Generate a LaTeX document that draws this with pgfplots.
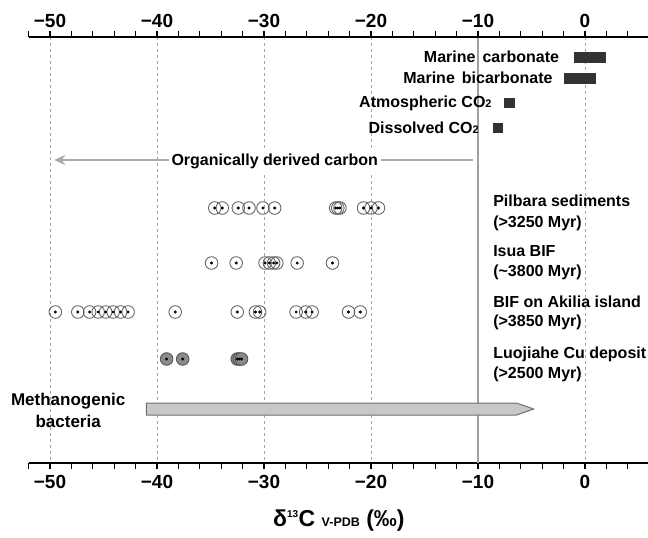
\documentclass[border=0pt]{standalone}
\usepackage{pgfplots}
\pgfplotsset{compat=1.18}
\usepackage{fontspec}
\setmainfont{Liberation Sans}
\usetikzlibrary{arrows.meta}

\definecolor{ring}{HTML}{666666}
\definecolor{barc}{HTML}{333333}
\definecolor{gridc}{HTML}{A5A5A5}
\definecolor{tenline}{HTML}{A0A0A0}
\definecolor{orgarrow}{HTML}{ABABAB}
\definecolor{methfill}{HTML}{C8C8C8}
\definecolor{methdraw}{HTML}{6E6E6E}
\definecolor{luofill}{HTML}{8A8A8A}

% one axis frame, drawn twice: bottom scale and top scale
\pgfplotsset{
  isoframe/.style={
    scale only axis, width=620.6bp, height=426bp,
    xmin=-52, xmax=6, ymin=37, ymax=463, y dir=reverse,
    axis y line=none,
    xtick={-50,-40,-30,-20,-10,0},
    xticklabels={−50,−40,−30,−20,−10,0},
    minor xtick={-52,-50,...,6},
    tick align=outside,
    major tick length=6bp, minor tick length=6bp,
    every tick/.style={black, line width=1.2bp},
    axis line style={line width=1.5bp},
    xticklabel style={font=\bfseries\fontsize{19bp}{19bp}\selectfont},
    clip=false,
  },
  ring/.style={only marks, mark=o, mark size=6.3bp,
    mark options={draw=ring, line width=0.9bp}},
  dot/.style={only marks, mark=*, mark size=1.3bp, black},
}

\begin{document}
\begin{tikzpicture}[font=\bfseries\fontsize{16bp}{19bp}\selectfont]
\begin{axis}[isoframe,
  axis x line*=bottom,
  xticklabel style={yshift=-3bp},
  xmajorgrids,
  grid style={gridc, line width=0.8bp, dash pattern=on 3bp off 3bp},
]
% solid reference line at -10
\addplot [tenline, line width=2.7bp] coordinates {(-10,37) (-10,463)};

% inorganic reservoirs
\addplot [barc, line width=11bp] coordinates {(-1,57.5) (2,57.5)};
\addplot [barc, line width=11bp] coordinates {(-2,78.5) (1,78.5)};
\addplot [barc, line width=10bp] coordinates {(-7.6,102.5) (-6.5,102.5)};
\addplot [barc, line width=10bp] coordinates {(-8.6,128) (-7.7,128)};
\node [anchor=base east] at (axis cs:-2.1,62.5) {Marine\hspace{7bp}carbonate};
\node [anchor=base east] at (axis cs:-2.7,84) {Marine\hspace{7bp}bicarbonate};
\node [anchor=base east] at (axis cs:-8.4,107.5) {Atmospheric CO{\fontsize{11bp}{11bp}\selectfont 2}};
\node [anchor=base east] at (axis cs:-9.6,133) {Dissolved CO{\fontsize{11bp}{11bp}\selectfont 2}};

% organically derived carbon arrow
\addplot [orgarrow, line width=2.7bp, -{Stealth[length=11bp, width=10bp]}]
  coordinates {(-10.5,160) (-49.6,160)};
\node [fill=white, inner sep=3bp, anchor=base] at (axis cs:-29,165.5) {Organically derived carbon};

% Pilbara sediments
\addplot [ring] coordinates {(-34.6,208) (-33.9,208) (-32.4,208) (-31.4,208) (-30.1,208) (-29.0,208)
  (-23.3,208) (-23.1,208) (-22.9,208) (-20.7,208) (-20.0,208) (-19.3,208)};
\addplot [dot] coordinates {(-34.6,208) (-33.9,208) (-32.4,208) (-31.4,208) (-30.1,208) (-29.0,208)
  (-23.3,208) (-23.1,208) (-22.9,208) (-20.7,208) (-20.0,208) (-19.3,208)};

% Isua BIF
\addplot [ring] coordinates {(-34.9,263) (-32.6,263) (-29.9,263) (-29.5,263) (-29.1,263) (-28.8,263)
  (-26.9,263) (-23.6,263)};
\addplot [dot] coordinates {(-34.9,263) (-32.6,263) (-29.9,263) (-29.5,263) (-29.1,263) (-28.8,263)
  (-26.9,263) (-23.6,263)};

% BIF on Akilia island
\addplot [ring] coordinates {(-49.5,312) (-47.4,312) (-46.3,312) (-45.5,312) (-44.8,312) (-44.1,312)
  (-43.4,312) (-42.7,312) (-38.3,312) (-32.5,312) (-30.8,312) (-30.4,312) (-27.0,312) (-26.1,312)
  (-25.5,312) (-22.1,312) (-21.0,312)};
\addplot [dot] coordinates {(-49.5,312) (-47.4,312) (-46.3,312) (-45.5,312) (-44.8,312) (-44.1,312)
  (-43.4,312) (-42.7,312) (-38.3,312) (-32.5,312) (-30.8,312) (-30.4,312) (-27.0,312) (-26.1,312)
  (-25.5,312) (-22.1,312) (-21.0,312)};

% Luojiahe Cu deposit
\addplot [only marks, mark=*, mark size=6.3bp, mark options={fill=luofill, draw=black!65, line width=0.9bp}]
  coordinates {(-39.1,359) (-37.6,359) (-32.5,359) (-32.3,359) (-32.1,359)};
\addplot [dot] coordinates {(-39.1,359) (-37.6,359) (-32.5,359) (-32.3,359) (-32.1,359)};

% group labels
\node [anchor=base west] at (axis cs:-8.9,206.4) {Pilbara sediments};
\node [anchor=base west] at (axis cs:-8.9,227.4) {(>3250 Myr)};
\node [anchor=base west] at (axis cs:-8.9,256.7) {Isua BIF};
\node [anchor=base west] at (axis cs:-8.9,276.4) {(\textasciitilde3800 Myr)};
\node [anchor=base west] at (axis cs:-8.9,307.4) {BIF on Akilia island};
\node [anchor=base west] at (axis cs:-8.9,326.7) {(>3850 Myr)};
\node [anchor=base west] at (axis cs:-8.9,358.7) {Luojiahe Cu deposit};
\node [anchor=base west] at (axis cs:-8.9,378.4) {(>2500 Myr)};

% methanogenic bacteria
\addplot [fill=methfill, draw=methdraw, line width=1bp]
  coordinates {(-41,403) (-6.4,403) (-4.8,409) (-6.4,415) (-41,415)} -- cycle;
\node [align=center, font=\bfseries\fontsize{17bp}{22bp}\selectfont] at (axis cs:-48.3,410) {Methanogenic\\bacteria};

% x label
\node at (axis cs:-23,521) {\fontsize{23bp}{24bp}\selectfont δ\textsuperscript{\fontsize{10bp}{10bp}\selectfont 13}C
  {\fontsize{12.5bp}{13bp}\selectfont V-PDB} (‰)};

\coordinate (tl) at (axis cs:-52,37);
\coordinate (br) at (axis cs:6,463);
\end{axis}

\begin{axis}[isoframe, axis x line*=top]
\end{axis}

\pgfresetboundingbox
\path ([shift={(-28.6bp,37bp)}]tl) rectangle ([shift={(-1.2bp,-75bp)}]br);
\end{tikzpicture}
\end{document}
